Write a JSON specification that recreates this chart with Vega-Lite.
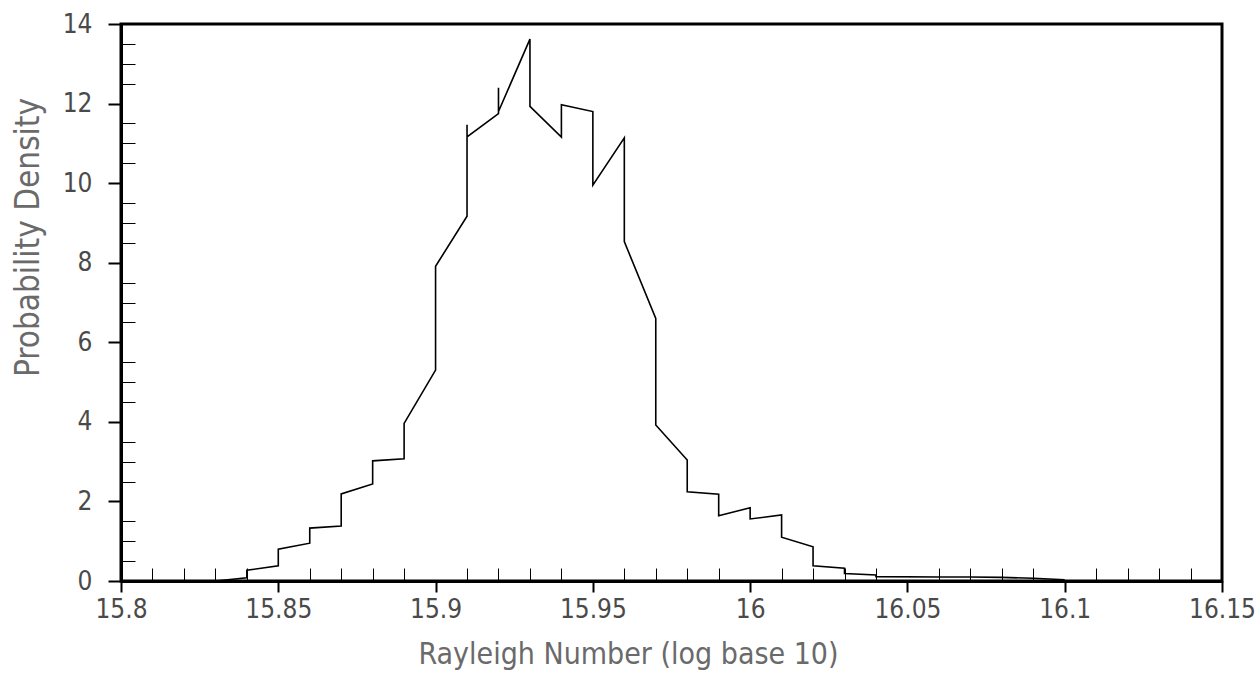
{
  "$schema": "https://vega.github.io/schema/vega-lite/v6.json",
  "width": 1101,
  "height": 557,
  "autosize": {"type": "none"},
  "padding": {"left": 121, "top": 24, "right": 33, "bottom": 96},
  "background": "white",
  "config": {
    "view": {"stroke": "black", "strokeWidth": 3},
    "axis": {
      "labelFont": "DejaVu Sans Condensed, sans-serif",
      "titleFont": "DejaVu Sans Condensed, sans-serif",
      "labelColor": "#4a4a4a",
      "titleColor": "#6a6a6a",
      "labelFontWeight": "normal",
      "titleFontWeight": "normal",
      "grid": false,
      "domainColor": "black",
      "domainWidth": 3,
      "tickColor": "black"
    }
  },
  "data": {
    "values": [
      {"i": 0, "x": 15.83, "y": 0},
      {"i": 1, "x": 15.84, "y": 0.08},
      {"i": 2, "x": 15.84, "y": 0.27},
      {"i": 3, "x": 15.85, "y": 0.38},
      {"i": 4, "x": 15.85, "y": 0.80},
      {"i": 5, "x": 15.86, "y": 0.95},
      {"i": 6, "x": 15.86, "y": 1.33},
      {"i": 7, "x": 15.87, "y": 1.38},
      {"i": 8, "x": 15.87, "y": 2.19},
      {"i": 9, "x": 15.88, "y": 2.44},
      {"i": 10, "x": 15.88, "y": 3.02},
      {"i": 11, "x": 15.89, "y": 3.07},
      {"i": 12, "x": 15.89, "y": 3.96},
      {"i": 13, "x": 15.90, "y": 5.30},
      {"i": 14, "x": 15.90, "y": 7.91},
      {"i": 15, "x": 15.91, "y": 9.17},
      {"i": 16, "x": 15.91, "y": 11.47},
      {"i": 17, "x": 15.91, "y": 11.16},
      {"i": 18, "x": 15.92, "y": 11.75},
      {"i": 19, "x": 15.92, "y": 12.40},
      {"i": 20, "x": 15.92, "y": 11.80},
      {"i": 21, "x": 15.93, "y": 13.62},
      {"i": 22, "x": 15.93, "y": 11.93},
      {"i": 23, "x": 15.94, "y": 11.16},
      {"i": 24, "x": 15.94, "y": 11.97},
      {"i": 25, "x": 15.95, "y": 11.80},
      {"i": 26, "x": 15.95, "y": 9.95},
      {"i": 27, "x": 15.96, "y": 11.14},
      {"i": 28, "x": 15.96, "y": 8.53},
      {"i": 29, "x": 15.97, "y": 6.60},
      {"i": 30, "x": 15.97, "y": 3.92},
      {"i": 31, "x": 15.98, "y": 3.04},
      {"i": 32, "x": 15.98, "y": 2.24},
      {"i": 33, "x": 15.99, "y": 2.18},
      {"i": 34, "x": 15.99, "y": 1.64},
      {"i": 35, "x": 16.00, "y": 1.84},
      {"i": 36, "x": 16.00, "y": 1.56},
      {"i": 37, "x": 16.01, "y": 1.66},
      {"i": 38, "x": 16.01, "y": 1.10},
      {"i": 39, "x": 16.02, "y": 0.86},
      {"i": 40, "x": 16.02, "y": 0.38},
      {"i": 41, "x": 16.03, "y": 0.32},
      {"i": 42, "x": 16.03, "y": 0.19},
      {"i": 43, "x": 16.04, "y": 0.15},
      {"i": 44, "x": 16.04, "y": 0.11},
      {"i": 45, "x": 16.06, "y": 0.10},
      {"i": 46, "x": 16.07, "y": 0.10},
      {"i": 47, "x": 16.08, "y": 0.09},
      {"i": 48, "x": 16.09, "y": 0.07},
      {"i": 49, "x": 16.10, "y": 0.03}
    ]
  },
  "resolve": {"axis": {"x": "independent", "y": "independent"}},
  "layer": [
    {
      "mark": {"type": "line", "color": "black", "strokeOpacity": 0},
      "encoding": {
        "order": {"field": "i", "type": "quantitative"},
        "x": {
          "field": "x",
          "type": "quantitative",
          "scale": {"domain": [15.8, 16.15], "nice": false, "zero": false},
          "axis": {
            "orient": "bottom",
            "title": null,
            "labels": false,
            "domain": false,
            "values": [15.81, 15.82, 15.83, 15.84, 15.86, 15.87, 15.88, 15.89, 15.91, 15.92, 15.93, 15.94, 15.96, 15.97, 15.98, 15.99, 16.01, 16.02, 16.03, 16.04, 16.06, 16.07, 16.08, 16.09, 16.11, 16.12, 16.13, 16.14],
            "tickSize": -13,
            "tickWidth": 1
          }
        },
        "y": {
          "field": "y",
          "type": "quantitative",
          "scale": {"domain": [0, 14], "nice": false},
          "axis": {
            "orient": "left",
            "title": null,
            "labels": false,
            "domain": false,
            "values": [0.5, 1, 1.5, 2.5, 3, 3.5, 4.5, 5, 5.5, 6.5, 7, 7.5, 8.5, 9, 9.5, 10.5, 11, 11.5, 12.5, 13, 13.5],
            "tickSize": -14,
            "tickWidth": 1
          }
        }
      }
    },
    {
      "mark": {"type": "line", "color": "black", "strokeWidth": 1.6, "clip": true},
      "encoding": {
        "order": {"field": "i", "type": "quantitative"},
        "x": {
          "field": "x",
          "type": "quantitative",
          "scale": {"domain": [15.8, 16.15], "nice": false, "zero": false},
          "axis": {
            "orient": "bottom",
            "title": "Rayleigh Number (log base 10)",
            "values": [15.8, 15.85, 15.9, 15.95, 16, 16.05, 16.1, 16.15],
            "format": "~g",
            "tickSize": 11,
            "tickWidth": 2,
            "labelFontSize": 26,
            "labelPadding": 4,
            "labelOverlap": false,
            "labelFlush": false,
            "titleFontSize": 30,
            "titlePadding": 17,
            "titleX": 507
          }
        },
        "y": {
          "field": "y",
          "type": "quantitative",
          "scale": {"domain": [0, 14], "nice": false},
          "axis": {
            "orient": "left",
            "title": "Probability Density",
            "values": [0, 2, 4, 6, 8, 10, 12, 14],
            "format": "d",
            "tickSize": 13,
            "tickWidth": 2,
            "labelFontSize": 26,
            "labelPadding": 16,
            "labelOverlap": false,
            "labelFlush": false,
            "titleFontSize": 33,
            "titlePadding": 17,
            "titleY": 213
          }
        }
      }
    }
  ]
}
